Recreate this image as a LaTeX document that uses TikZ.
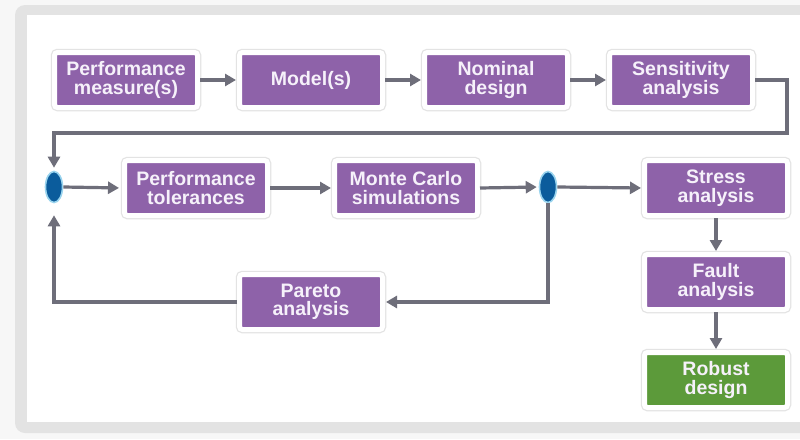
\documentclass[tikz,border=0pt]{standalone}
\usepackage{fontspec}
\setmainfont{Liberation Sans}
\usetikzlibrary{arrows.meta,shapes.geometric,shadows}
\definecolor{boxpurple}{HTML}{8E62A9}
\definecolor{boxgreen}{HTML}{5C9A3A}
\definecolor{linegray}{HTML}{6E6E7A}
\definecolor{nodeblue}{HTML}{0B5C9C}
\definecolor{glow}{HTML}{9AD4EE}
\definecolor{framegray}{HTML}{E3E3E3}
\definecolor{pagegray}{HTML}{F7F7F7}
\definecolor{labelwhite}{HTML}{F6F1FA}
\tikzset{
  stepbox/.style={rectangle, minimum width=143pt, minimum height=55pt,
    fill=boxpurple, draw=white, line width=5pt, rounded corners=3pt,
    text=labelwhite, align=center, inner sep=0pt,
    font=\fontsize{19.5}{18.5}\selectfont\bfseries,
    drop shadow={opacity=0.28, shadow xshift=0.8pt, shadow yshift=-2.5pt},
    preaction={draw=black!11, line width=7.5pt}},
  endbox/.style={stepbox, fill=boxgreen},
  junction/.style={ellipse, minimum width=17pt, minimum height=31pt,
    inner sep=0pt, fill=nodeblue, draw=glow, line width=1.6pt},
  conn/.style={draw=linegray, line width=3.2pt,
    -{Triangle[length=11pt,width=12pt]}, shorten >=1pt},
  plain/.style={draw=linegray, line width=3.2pt}
}
\begin{document}
\begin{tikzpicture}[x=1pt,y=-1pt]
  \useasboundingbox (0,0) rectangle (800,439);
  \clip (0,0) rectangle (800,439);
  % page and panel frame
  \fill[pagegray] (0,0) rectangle (800,439);
  \fill[framegray, rounded corners=10pt] (15,5) rectangle (840,433);
  \fill[white] (27,15) rectangle (840,422);

  % first row
  \node[stepbox] (pm)   at (126,80) {Performance\\measure(s)};
  \node[stepbox] (mod)  at (311,80) {Model(s)};
  \node[stepbox] (nom)  at (496,80) {Nominal\\design};
  \node[stepbox] (sens) at (681,80) {Sensitivity\\analysis};

  % second row
  \node[junction] (j1) at (54,187) {};
  \node[stepbox] (tol) at (196,188) {Performance\\tolerances};
  \node[stepbox] (mc)  at (406,188) {Monte Carlo\\simulations};
  \node[junction] (j2) at (548,187) {};
  \node[stepbox] (stress) at (716,188) {Stress\\analysis};

  % lower boxes
  \node[stepbox] (pareto) at (311,302) {Pareto\\analysis};
  \node[stepbox] (fault)  at (716,282) {Fault\\analysis};
  \node[endbox]  (robust) at (716,380) {Robust\\design};

  \coordinate (turn) at (787,133);

  % connectors
  \draw[conn] (pm) -- (mod);
  \draw[conn] (mod) -- (nom);
  \draw[conn] (nom) -- (sens);
  \draw[conn, shorten >=3pt] (sens.east) -| (turn) -| (j1.north);
  \draw[conn, shorten >=3pt] (j1.east) -- (tol.west);
  \draw[conn] (tol) -- (mc);
  \draw[conn, shorten >=2pt] (mc.east) -- (j2.west);
  \draw[conn] (j2.east) -- (stress.west);
  \draw[conn] (j2.south) |- (pareto.east);
  \draw[conn, shorten >=12pt] (pareto.west) -| (j1.south);
  \draw[conn] (stress) -- (fault);
  \draw[conn] (fault) -- (robust);
\end{tikzpicture}
\end{document}
